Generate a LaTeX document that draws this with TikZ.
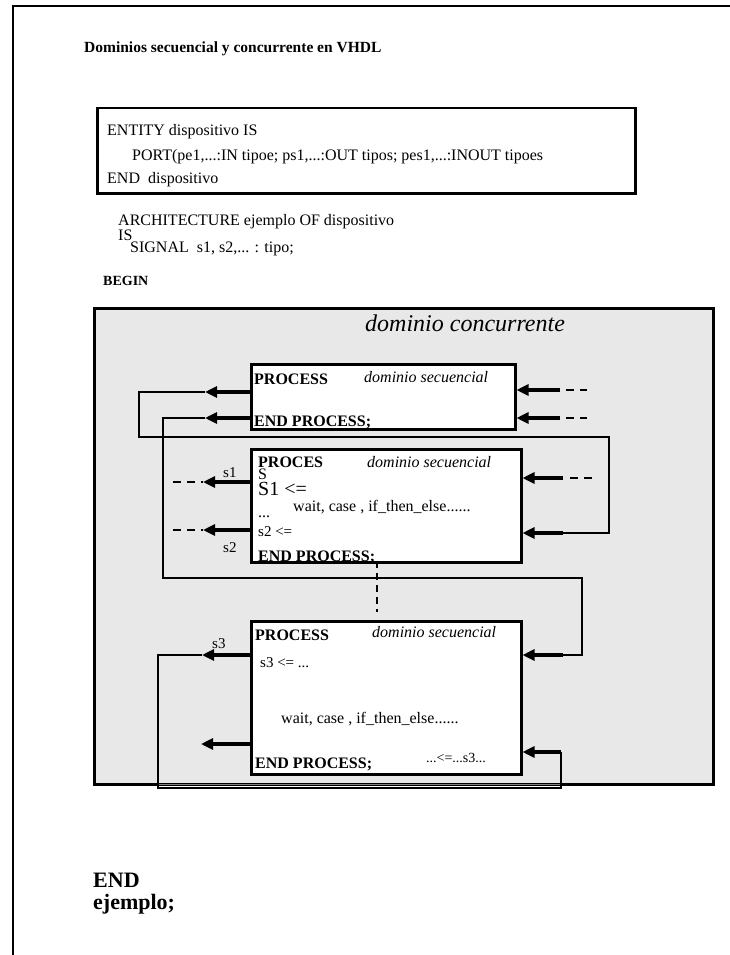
\documentclass[tikz,border=0pt]{standalone}
\usepackage{fontspec}
\setmainfont{Liberation Serif}
\usetikzlibrary{arrows.meta,positioning}
\newcommand{\fsz}[1]{\fontsize{#1}{#1}\selectfont}

\begin{document}
\begin{tikzpicture}[x=1pt,y=-1pt,
  txt/.style={anchor=base west,inner sep=0pt,font=\fsz{16}},
  boldtxt/.style={txt,font=\fsz{16}\bfseries},
  domtxt/.style={txt,font=\fsz{16}\itshape},
  procbox/.style={draw,fill=white,line width=2.5pt,inner sep=0pt,anchor=north west},
  sig/.style={line width=4.5pt,-{Triangle[length=12pt,width=11pt]}},
  wire/.style={line width=2.2pt},
  tail/.style={line width=2.5pt,dash pattern=on 8pt off 6pt}]
\useasboundingbox (0,0) rectangle (730,955);
% page frame
\draw[line width=2pt] (13,955) -- (13,6) -- (730,6);
\node[txt,font=\fsz{15.5}\bfseries] (title) at (84,53) {Dominios secuencial y concurrente en VHDL};

% entity
\node[draw,line width=2.5pt,minimum width=538pt,minimum height=85pt,anchor=north west] (entity) at (96,107) {};
\node[txt] (ent1) at (107,135.5) {ENTITY dispositivo IS};
\node[txt] (ent2) at (132,160) {PORT(pe1,...:IN tipoe; ps1,...:OUT tipos; pes1,...:INOUT tipoes};
\node[txt] (ent3) at (107,183) {END\ \ dispositivo};

% architecture header
\node[txt] (arch) at (118,225) {ARCHITECTURE ejemplo OF dispositivo};
\node[txt] (archis) at (118,240) {IS};
\node[txt] (signals) at (130,252.5) {SIGNAL\ \ s1, s2,... : tipo;};
\node[txt,font=\fsz{14}\bfseries] (begin) at (103,285) {BEGIN};

% concurrent domain
\node[draw,fill=black!9,line width=2.5pt,minimum width=619pt,minimum height=476pt,anchor=north west] (conc) at (93,307) {};
\node[txt,font=\fsz{24}\itshape] (conclabel) at (365,331) {dominio concurrente};

% processes
\node[procbox,minimum width=264pt,minimum height=65pt] (p1) at (250,363) {};
\node[procbox,minimum width=270pt,minimum height=113pt] (p2) at (250,448) {};
\node[procbox,minimum width=270pt,minimum height=153pt] (p3) at (250,620) {};

\node[boldtxt] (p1head) at (254,384) {PROCESS};
\node[domtxt] (p1dom) at (364,382) {dominio secuencial};
\begin{scope}
\clip ([yshift=1.3pt]p1.south west) rectangle (p1.north east);
\node[boldtxt] (p1end) at (254,426) {END PROCESS;};
\end{scope}

\node[boldtxt] (p2head) at (258,467) {PROCES};
\node[domtxt] (p2dom) at (367,467) {dominio secuencial};
\node[txt] (p2s) at (258,479) {S};
\node[txt,font=\fsz{20}] (p2s1) at (258,495.5) {S1 <=};
\node[txt] (p2wait) at (293,511) {wait, case , if\_then\_else......};
\node[txt] (p2dots) at (258,517) {...};
\node[txt,font=\fsz{15}] (p2s2) at (258,536) {s2 <=};
\begin{scope}
\clip ([yshift=1.3pt]p2.south west) rectangle (p2.north east);
\node[boldtxt] (p2end) at (258,561) {END PROCESS;};
\end{scope}

\node[boldtxt] (p3head) at (255,640) {PROCESS};
\node[domtxt] (p3dom) at (372,637) {dominio secuencial};
\node[txt,font=\fsz{15}] (p3s3) at (260,667) {s3 <= ...};
\node[txt] (p3wait) at (281,723) {wait, case , if\_then\_else......};
\node[txt,font=\fsz{14}] (p3use) at (426,762) {...<=...s3...};
\node[boldtxt] (p3end) at (255,768) {END PROCESS;};

% loop corners
\coordinate (a1) at (205,392);  \coordinate (a2) at (139,392);
\coordinate (a3) at (139,437);  \coordinate (a4) at (609,437);
\coordinate (a5) at (609,533);  \coordinate (a6) at (563,533);
\coordinate (b1) at (205,418);  \coordinate (b2) at (163,418);
\coordinate (b3) at (163,578);  \coordinate (b4) at (582,578);
\coordinate (b5) at (582,655);  \coordinate (b6) at (563,655);
\coordinate (c1) at (202,655);  \coordinate (c2) at (158,655);
\coordinate (c3) at (158,788);  \coordinate (c4) at (561,788);
\coordinate (c5) at (561,752);
\draw[wire] (a1) -- (a2) -- (a3) -- (a4) -- (a5) -- (a6);
\draw[wire] (b1) -- (b2) -- (b3) -- (b4) -- (b5) -- (b6);
\draw[gray,line width=1.5pt] ([yshift=3.5pt]c3) -- ([yshift=3.5pt]c4);
\draw[wire] (c1) -- (c2) -- (c3) -- (c4) -- (c5);

% process 1 ports
\draw[sig] (p1.west |- a1) -- (a1);
\draw[sig] (p1.west |- b1) -- (b1);
\coordinate (i1) at (560,390); \coordinate (i2) at (560,418);
\draw[sig] (i1) -- (p1.east |- i1);
\draw[sig] (i2) -- (p1.east |- i2);
\draw[tail] (i1) ++(6,0) -- ++(21,0);
\draw[tail] (i2) ++(6,0) -- ++(21,0);

% process 2 ports
\coordinate (s1) at (203,482); \coordinate (s2) at (203,530);
\draw[sig] (p2.west |- s1) -- (s1);
\draw[sig] (p2.west |- s2) -- (s2);
\draw[tail] (s1) ++(-30,0) -- (s1);
\draw[tail] (s2) ++(-30,0) -- (s2);
\node[txt,font=\fsz{15}] (s1lab) at (223,477) {s1};
\node[txt,font=\fsz{15}] (s2lab) at (223,552) {s2};
\coordinate (i3) at (563,478);
\draw[sig] (i3) -- (p2.east |- i3);
\draw[tail] (i3) ++(7,0) -- ++(26,0);
\draw[sig] (a6) -- (p2.east |- a6);

% link between processes
\coordinate (d1) at (377,561); \coordinate (d2) at (377,612);
\draw[line width=2.5pt,dash pattern=on 7pt off 5pt] (d1) -- (d2);

% process 3 ports
\draw[sig] (p3.west |- c1) -- (c1);
\node[txt,font=\fsz{15}] (s3lab) at (212,648) {s3};
\coordinate (o3) at (201,744);
\draw[sig] (p3.west |- o3) -- (o3);
\draw[sig] (b6) -- (p3.east |- b6);
\draw[sig] (c5) -- (p3.east |- c5);

\node[txt,font=\fsz{22}\bfseries] (endarch) at (93,887) {END};
\node[txt,font=\fsz{22}\bfseries] (endname) at (93,909) {ejemplo;};
\end{tikzpicture}
\end{document}
